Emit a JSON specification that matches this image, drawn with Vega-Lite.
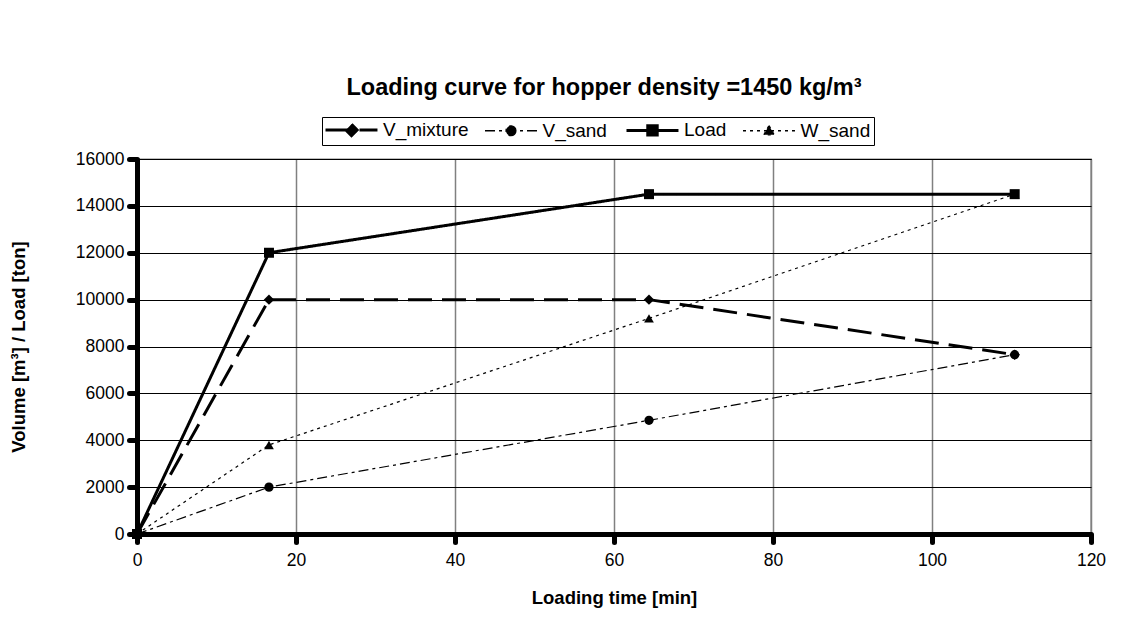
{
  "$schema": "https://vega.github.io/schema/vega-lite/v6.json",
  "autosize": {"type": "none"},
  "width": 954,
  "height": 375,
  "padding": {"left": 137, "top": 159, "right": 35, "bottom": 100},
  "background": "white",
  "title": {
    "text": "Loading curve for hopper density =1450 kg/m³",
    "font": "Liberation Sans",
    "fontSize": 23.5,
    "fontWeight": "bold",
    "color": "black",
    "anchor": "middle",
    "frame": "group",
    "offset": 17,
    "dx": -10
  },
  "config": {
    "font": "Liberation Sans",
    "view": {"stroke": "black", "strokeWidth": 1.2}
  },
  "data": {
    "values": [
      {"series": "V_mixture", "t": 0, "value": 0},
      {"series": "V_mixture", "t": 16.6, "value": 10000},
      {"series": "V_mixture", "t": 64.4, "value": 10000},
      {"series": "V_mixture", "t": 110.4, "value": 7650},
      {"series": "V_sand", "t": 0, "value": 0},
      {"series": "V_sand", "t": 16.6, "value": 2000},
      {"series": "V_sand", "t": 64.4, "value": 4850},
      {"series": "V_sand", "t": 110.4, "value": 7650},
      {"series": "Load", "t": 0, "value": 0},
      {"series": "Load", "t": 16.6, "value": 12000},
      {"series": "Load", "t": 64.4, "value": 14500},
      {"series": "Load", "t": 110.4, "value": 14500},
      {"series": "W_sand", "t": 0, "value": 0},
      {"series": "W_sand", "t": 16.6, "value": 3800},
      {"series": "W_sand", "t": 64.4, "value": 9200},
      {"series": "W_sand", "t": 110.4, "value": 14500}
    ]
  },
  "encoding": {
    "x": {
      "field": "t",
      "type": "quantitative",
      "scale": {"domain": [0, 120], "nice": false},
      "axis": {
        "title": "Loading time [min]",
        "values": [0, 20, 40, 60, 80, 100, 120],
        "format": "d",
        "labelFont": "Liberation Sans",
        "labelFontSize": 17.5,
        "labelColor": "black",
        "labelPadding": 9,
        "labelFlush": false,
        "titleFont": "Liberation Sans",
        "titleFontSize": 18.5,
        "titleFontWeight": "bold",
        "titleColor": "black",
        "titlePadding": 20,
        "domainColor": "black",
        "domainWidth": 5,
        "tickColor": "black",
        "tickWidth": 5,
        "tickSize": 8,
        "tickCap": "round",
        "grid": true,
        "gridColor": "#808080",
        "gridWidth": 1.5,
        "zindex": 0
      }
    },
    "y": {
      "field": "value",
      "type": "quantitative",
      "scale": {"domain": [0, 16000], "nice": false},
      "axis": {
        "title": "Volume [m³] / Load [ton]",
        "values": [0, 2000, 4000, 6000, 8000, 10000, 12000, 14000, 16000],
        "format": "d",
        "labelFont": "Liberation Sans",
        "labelFontSize": 17.5,
        "labelColor": "black",
        "labelPadding": 5,
        "labelFlush": false,
        "titleFont": "Liberation Sans",
        "titleFontSize": 18.5,
        "titleFontWeight": "bold",
        "titleColor": "black",
        "titlePadding": 47,
        "domainColor": "black",
        "domainWidth": 5,
        "tickColor": "black",
        "tickWidth": 5,
        "tickSize": 8,
        "tickCap": "round",
        "grid": true,
        "gridColor": "black",
        "gridWidth": 1,
        "zindex": 0
      }
    }
  },
  "layer": [
    {
      "transform": [{"filter": "datum.series === 'V_mixture' || datum.series === 'Load'"}],
      "mark": {"type": "line", "color": "black", "strokeWidth": 3},
      "encoding": {
        "detail": {"field": "series"},
        "strokeDash": {
          "field": "series",
          "type": "nominal",
          "scale": {
            "domain": ["V_mixture", "V_sand", "Load", "W_sand"],
            "range": [[24, 10], [10, 4, 3, 4], [1, 0], [3, 4]]
          },
          "legend": {
            "orient": "none",
            "legendX": 185,
            "legendY": -42,
            "direction": "horizontal",
            "title": null,
            "strokeColor": "black",
            "padding": 3,
            "columnPadding": 12.5,
            "symbolSize": 2025,
            "symbolOffset": 0,
            "labelOffset": 39,
            "labelFont": "Liberation Sans",
            "labelFontSize": 19,
            "labelColor": "black",
            "symbolStrokeColor": "black",
            "encode": {
              "symbols": {
                "update": {
                  "shape": {"signal": "datum.value === 'V_mixture' ? 'M-0.4,0H1.91M0.755,-0.25L1.005,0L0.755,0.25L0.505,0Z' : datum.value === 'V_sand' ? 'M-0.4,0H1.91M0.975,0A0.22,0.22,0,1,1,0.535,0A0.22,0.22,0,1,1,0.975,0Z' : datum.value === 'Load' ? 'M-0.4,0H1.91M0.545,-0.21H0.965V0.21H0.545Z' : 'M-0.4,0H1.91M0.755,-0.23L0.985,0.18H0.525Z'"},
                  "strokeWidth": {"signal": "datum.value === 'V_mixture' || datum.value === 'Load' ? 3 : 1.3"},
                  "fill": {"value": "black"},
                  "stroke": {"value": "black"},
                  "opacity": {"value": 1}
                }
              }
            }
          }
        }
      }
    },
    {
      "transform": [{"filter": "datum.series === 'V_sand' || datum.series === 'W_sand'"}],
      "mark": {"type": "line", "color": "black", "strokeWidth": 1.2},
      "encoding": {
        "detail": {"field": "series"},
        "strokeDash": {"field": "series", "type": "nominal"}
      }
    },
    {
      "transform": [{"filter": "datum.series === 'V_mixture'"}],
      "mark": {"type": "point", "shape": "diamond", "filled": true, "color": "black", "opacity": 1, "size": 110}
    },
    {
      "transform": [{"filter": "datum.series === 'V_sand'"}],
      "mark": {"type": "point", "shape": "circle", "filled": true, "color": "black", "opacity": 1, "size": 85}
    },
    {
      "transform": [{"filter": "datum.series === 'Load'"}],
      "mark": {"type": "point", "shape": "square", "filled": true, "color": "black", "opacity": 1, "size": 100}
    },
    {
      "transform": [{"filter": "datum.series === 'W_sand'"}],
      "mark": {"type": "point", "shape": "triangle-up", "filled": true, "color": "black", "opacity": 1, "size": 95}
    }
  ]
}
